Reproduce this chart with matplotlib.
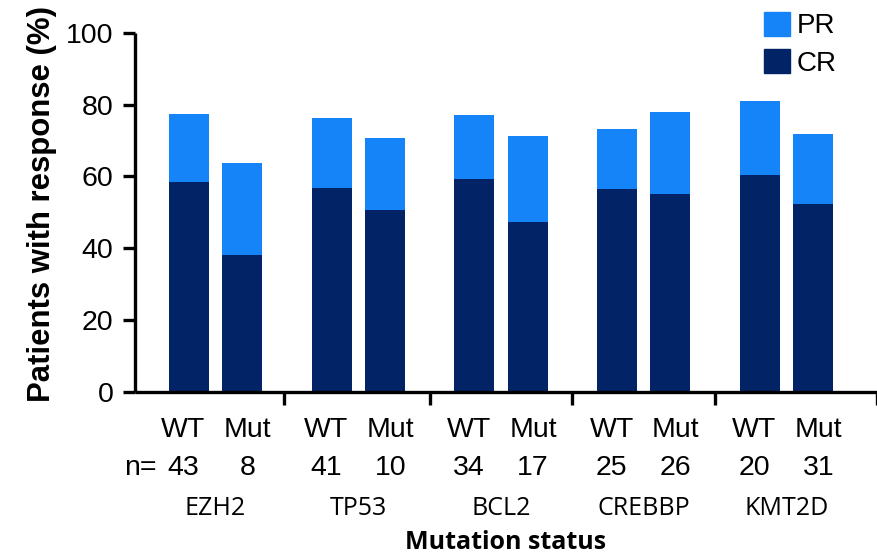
import matplotlib
matplotlib.use("Agg")
import matplotlib.pyplot as plt
from matplotlib.patches import Patch
import numpy as np

genes = ["EZH2", "TP53", "BCL2", "CREBBP", "KMT2D"]
status = ["WT", "Mut"]
n_wt = [43, 41, 34, 25, 20]
n_mut = [8, 10, 17, 26, 31]
# Complete response (%) and total response (%) per subgroup
cr_wt = [58.3, 56.9, 59.4, 56.6, 60.5]
cr_mut = [38.2, 50.5, 47.4, 55.0, 52.4]
total_wt = [77.5, 76.4, 77.0, 73.1, 80.9]
total_mut = [63.6, 70.6, 71.4, 78.0, 71.7]
pr_wt = [t - c for t, c in zip(total_wt, cr_wt)]
pr_mut = [t - c for t, c in zip(total_mut, cr_mut)]

CR_COLOR = "#022366"
PR_COLOR = "#1584f8"

W, H = 878, 556
fig = plt.figure(figsize=(W / 100, H / 100), dpi=100)
ax_left, ax_right, ax_top, ax_bot = 135, 877, 33, 391.5
ax = fig.add_axes([ax_left / W, 1 - ax_bot / H, (ax_right - ax_left) / W, (ax_bot - ax_top) / H])

sans = ["Liberation Sans", "DejaVu Sans"]
label_font = ["Open Sans", "DejaVu Sans"]

x = np.arange(len(genes))
off = 0.186
bw = 0.28
ax.bar(x - off, cr_wt, bw, color=CR_COLOR, linewidth=0)
ax.bar(x - off, pr_wt, bw, bottom=cr_wt, color=PR_COLOR, linewidth=0)
ax.bar(x + off, cr_mut, bw, color=CR_COLOR, linewidth=0)
ax.bar(x + off, pr_mut, bw, bottom=cr_mut, color=PR_COLOR, linewidth=0)

xmin, xmax = -0.564, 4.634
ax.set_xlim(xmin, xmax)
ax.set_ylim(0, 100)

for s in ["top", "right"]:
    ax.spines[s].set_visible(False)
for s in ["left", "bottom"]:
    ax.spines[s].set_linewidth(2.4)
    ax.spines[s].set_capstyle("butt")

ax.set_yticks(np.arange(0, 101, 20))
ax.tick_params(axis="y", direction="out", length=8.5, width=2.4, pad=7,
               labelsize=20.5, labelfontfamily=sans)
ax.set_xticks([0.48, 1.5, 2.5, 3.5, xmax])
ax.set_xticklabels([])
ax.tick_params(axis="x", direction="out", length=9.5, width=2.4)

trans = ax.get_xaxis_transform()
row_status, row_n, row_gene, row_title = -0.1277, -0.2329, -0.3445, -0.4394
lo = 0.225
for i, g in enumerate(genes):
    ax.text(i - lo, row_status, "WT", transform=trans, ha="center", va="baseline",
            fontsize=20.5, family=sans)
    ax.text(i + lo, row_status, "Mut", transform=trans, ha="center", va="baseline",
            fontsize=20.5, family=sans)
    ax.text(i - lo, row_n, str(n_wt[i]), transform=trans, ha="center", va="baseline",
            fontsize=20.5, family=sans)
    ax.text(i + lo, row_n, str(n_mut[i]), transform=trans, ha="center", va="baseline",
            fontsize=20.5, family=sans)
    ax.text(i, row_gene, g, transform=trans, ha="center", va="baseline",
            fontsize=18, family=label_font)
ax.text(-0.41, row_n, "n=", transform=trans, ha="right", va="baseline",
        fontsize=20.5, family=sans)
ax.text((xmin + xmax) / 2, row_title, "Mutation status", transform=trans,
        ha="center", va="baseline", fontsize=18, fontweight="bold", family=label_font)

ax.set_ylabel("Patients with response (%)", fontsize=22.4, fontweight="bold",
              family=sans)
ax.yaxis.set_label_coords(-0.105, 0.524)

handles = [Patch(color=PR_COLOR, label="PR"), Patch(color=CR_COLOR, label="CR")]
fig.legend(handles=handles, loc="upper left", bbox_to_anchor=(764 / W, 1 - 12 / H),
           frameon=False, borderpad=0, borderaxespad=0, handlelength=0.94,
           handleheight=0.94, handletextpad=0.25, labelspacing=0.35,
           prop={"family": sans, "size": 20})

fig.savefig("out.png", dpi=100)
